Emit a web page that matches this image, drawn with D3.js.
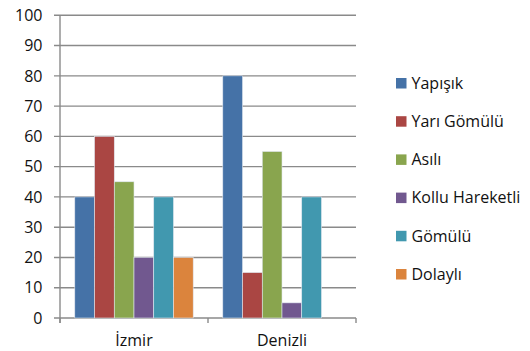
<!DOCTYPE html>
<html>
<head>
<meta charset="utf-8">
<script src="https://cdn.jsdelivr.net/npm/d3@7"></script>
<style>
  html, body { margin: 0; padding: 0; background: #fff; }
  svg text { font-family: "Open Sans", "DejaVu Sans", sans-serif; fill: #111; }
</style>
</head>
<body>
<svg id="chart" width="530" height="351"></svg>
<script>
// Chart data
const categories = ["İzmir", "Denizli"];
const seriesNames = ["Yapışık", "Yarı Gömülü", "Asılı", "Kollu Hareketli", "Gömülü", "Dolaylı"];
const seriesColors = ["#4572A7", "#AA4643", "#89A54E", "#71588F", "#4198AF", "#DB843D"];
const valuesIzmir = [40, 60, 45, 20, 40, 20];
const valuesDenizli = [80, 15, 55, 5, 40, 0];
const yTicks = [0, 10, 20, 30, 40, 50, 60, 70, 80, 90, 100];

const values = [valuesIzmir, valuesDenizli];

const svg = d3.select("#chart");
const plot = { left: 60, right: 356, top: 15.3, bottom: 318 };

const y = d3.scaleLinear().domain([0, 100]).range([plot.bottom, plot.top]);
const x0 = d3.scaleBand().domain(categories).range([plot.left, plot.right]).paddingInner(0).paddingOuter(0);
// 150% gap between clusters: gap = 1.5 bar widths split across both sides
const x1 = d3.scaleBand().domain(seriesNames).range([0, x0.bandwidth()])
  .paddingInner(0).paddingOuter(0.75);

// Horizontal gridlines
svg.append("g").selectAll("line").data(yTicks).join("line")
  .attr("x1", plot.left - 6).attr("x2", plot.right)
  .attr("y1", d => y(d)).attr("y2", d => y(d))
  .attr("stroke", "#8a8a8a").attr("stroke-width", 1.4);

// Y tick labels
svg.append("g").selectAll("text").data(yTicks).join("text")
  .attr("x", 42.5).attr("y", d => y(d))
  .attr("dy", "0.36em").attr("text-anchor", "end")
  .style("font-size", "16px")
  .text(d => d);

// Bars
const groups = svg.append("g").selectAll("g").data(categories).join("g")
  .attr("transform", d => `translate(${x0(d)},0)`);
groups.selectAll("rect")
  .data((c, i) => seriesNames.map((s, j) => ({ s, v: values[i][j], color: seriesColors[j] })))
  .join("rect")
  .filter(d => d.v > 0)
  .attr("x", d => x1(d.s))
  .attr("width", x1.bandwidth())
  .attr("y", d => y(d.v))
  .attr("height", d => y(0) - y(d.v))
  .attr("fill", d => d.color)
  .attr("stroke", "#dfe6ef").attr("stroke-width", 0.6);

// Y axis line
svg.append("line")
  .attr("x1", plot.left).attr("x2", plot.left)
  .attr("y1", plot.top).attr("y2", plot.bottom + 5)
  .attr("stroke", "#8a8a8a").attr("stroke-width", 1.4);

// X axis category boundary ticks
const bounds = [plot.left, ...categories.map(c => x0(c) + x0.bandwidth())];
svg.append("g").selectAll("line").data(bounds).join("line")
  .attr("x1", d => d).attr("x2", d => d)
  .attr("y1", plot.bottom).attr("y2", plot.bottom + 5)
  .attr("stroke", "#8a8a8a").attr("stroke-width", 1.4);

// X category labels
svg.append("g").selectAll("text").data(categories).join("text")
  .attr("x", d => x0(d) + x0.bandwidth() / 2)
  .attr("y", 346)
  .attr("text-anchor", "middle")
  .style("font-size", "16px")
  .text(d => d);

// Legend
const legend = svg.append("g").selectAll("g").data(seriesNames).join("g")
  .attr("transform", (d, i) => `translate(396,${83 + i * 38.2})`);
legend.append("rect")
  .attr("x", 0).attr("y", -5).attr("width", 10.5).attr("height", 10.5)
  .attr("fill", (d, i) => seriesColors[i]);
legend.append("text")
  .attr("x", 15.5).attr("y", 0).attr("dy", "0.36em")
  .style("font-size", "16px")
  .text(d => d);
</script>
</body>
</html>
